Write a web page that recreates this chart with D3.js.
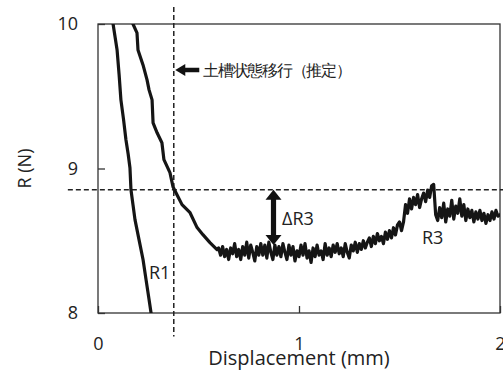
<!DOCTYPE html>
<html>
<head>
<meta charset="utf-8">
<script src="https://cdn.jsdelivr.net/npm/d3@7"></script>
<style>
  html, body { margin: 0; padding: 0; background: #fff; }
  svg { display: block; }
  text { font-family: "Open Sans", sans-serif; fill: #222; }
</style>
</head>
<body>
<div id="chart"></div>
<script>
// axis ticks
const xTicks = [0, 1, 2];
const yTicks = [8, 9, 10];

// R1 curve (displacement mm, R N)
const r1Disp = [0.075, 0.085, 0.095, 0.105, 0.114, 0.127, 0.139, 0.150, 0.159, 0.164, 0.174, 0.184, 0.204, 0.224, 0.239, 0.254, 0.264];
const r1Val  = [10.0, 9.91, 9.82, 9.65, 9.475, 9.34, 9.199, 9.10, 9.005, 8.853, 8.75, 8.646, 8.508, 8.37, 8.231, 8.093, 8.0];

// R2 -> R3 curve, upper part
const r3HeadDisp = [0.174, 0.194, 0.199, 0.224, 0.244, 0.254, 0.269, 0.274, 0.294, 0.318, 0.328, 0.358, 0.373, 0.398, 0.418, 0.458, 0.493, 0.522, 0.557, 0.592];
const r3HeadVal  = [10.0, 9.938, 9.82, 9.717, 9.613, 9.544, 9.475, 9.316, 9.247, 9.178, 9.061, 8.971, 8.874, 8.805, 8.75, 8.694, 8.591, 8.542, 8.487, 8.439];

// R3 noisy part, displacement 0.60 .. 2.00 every 0.01 mm
const r3TailStart = 0.60;
const r3TailStep = 0.01;
const r3TailVal = [
  8.45, 8.40, 8.46, 8.39, 8.44, 8.37, 8.45, 8.41, 8.48, 8.39, 8.44,
  8.37, 8.46, 8.40, 8.49, 8.38, 8.47, 8.42, 8.36, 8.46, 8.40,
  8.48, 8.40, 8.47, 8.38, 8.49, 8.42, 8.37, 8.47, 8.40, 8.46,
  8.39, 8.48, 8.42, 8.37, 8.47, 8.40, 8.46, 8.36, 8.43, 8.39,
  8.47, 8.40, 8.48, 8.38, 8.43, 8.35, 8.45, 8.39, 8.47, 8.40,
  8.43, 8.37, 8.48, 8.40, 8.45, 8.39, 8.47, 8.42, 8.48, 8.41,
  8.45, 8.39, 8.48, 8.42, 8.38, 8.47, 8.43, 8.49, 8.42, 8.48,
  8.44, 8.50, 8.45, 8.49, 8.52, 8.46, 8.53, 8.48, 8.55, 8.50,
  8.53, 8.48, 8.56, 8.51, 8.57, 8.52, 8.59, 8.54, 8.61, 8.63,
  8.57, 8.63, 8.75, 8.69, 8.79, 8.72, 8.80, 8.75, 8.82, 8.73,
  8.79, 8.83, 8.77, 8.85, 8.80, 8.88, 8.89, 8.68, 8.64, 8.73,
  8.66, 8.76, 8.63, 8.72, 8.67, 8.78, 8.65, 8.74, 8.69, 8.79,
  8.67, 8.75, 8.64, 8.72, 8.66, 8.71, 8.63, 8.70, 8.65, 8.71,
  8.64, 8.69, 8.62, 8.68, 8.64, 8.70, 8.65, 8.71, 8.67, 8.68
];

// reference lines
const transitionDisp = 0.377;   // vertical dashed
const refR = 8.853;             // horizontal dashed
const deltaTop = 8.853, deltaBottom = 8.47;

const width = 503, height = 376;
const margin = { top: 24, right: 3, bottom: 63, left: 98 };
const w = width - margin.left - margin.right;
const h = height - margin.top - margin.bottom;

const svg = d3.select("#chart").append("svg")
  .attr("width", width).attr("height", height);

const x = d3.scaleLinear().domain([0, 2]).range([margin.left, margin.left + w]);
const y = d3.scaleLinear().domain([8, 10]).range([margin.top + h, margin.top]);

svg.append("defs").append("clipPath").attr("id", "plot")
  .append("rect").attr("x", margin.left).attr("y", margin.top).attr("width", w).attr("height", h);

// frame
svg.append("rect")
  .attr("x", margin.left).attr("y", margin.top).attr("width", w).attr("height", h)
  .attr("fill", "none").attr("stroke", "#333").attr("stroke-width", 1.3);

// axes with inward ticks
const xAxis = svg.append("g").attr("transform", `translate(0,${margin.top + h})`)
  .call(d3.axisBottom(x).tickValues(xTicks).tickSize(-7).tickPadding(24).tickFormat(d3.format("d")));
const yAxis = svg.append("g").attr("transform", `translate(${margin.left},0)`)
  .call(d3.axisLeft(y).tickValues(yTicks).tickSize(-7).tickPadding(20).tickFormat(d3.format("d")));
[xAxis, yAxis].forEach(a => {
  a.select(".domain").remove();
  a.selectAll("line").attr("stroke", "#333").attr("stroke-width", 1.3);
  a.selectAll("text").attr("font-family", "Open Sans").attr("font-size", 18).attr("fill", "#222");
});

// dashed reference lines
svg.append("line")
  .attr("x1", x(-0.15)).attr("x2", width)
  .attr("y1", y(refR)).attr("y2", y(refR))
  .attr("stroke", "#222").attr("stroke-width", 1.5).attr("stroke-dasharray", "5,3");
svg.append("line")
  .attr("x1", x(transitionDisp)).attr("x2", x(transitionDisp))
  .attr("y1", y(10.117)).attr("y2", y(7.838))
  .attr("stroke", "#222").attr("stroke-width", 1.5).attr("stroke-dasharray", "5,3");

// curves
const line = d3.line().x(d => x(d[0])).y(d => y(d[1]));
const r1 = r1Disp.map((d, i) => [d, r1Val[i]]);
const r3 = r3HeadDisp.map((d, i) => [d, r3HeadVal[i]])
  .concat(r3TailVal.map((v, i) => [r3TailStart + i * r3TailStep, v]));

const g = svg.append("g").attr("clip-path", "url(#plot)");
[r1, r3].forEach(data => {
  g.append("path").datum(data)
    .attr("d", line)
    .attr("fill", "none").attr("stroke", "#151515")
    .attr("stroke-width", 3.2).attr("stroke-linejoin", "round").attr("stroke-linecap", "round");
});

// transition arrow + label
const ay = 70;
const ax0 = x(transitionDisp) + 1.5;
svg.append("path")
  .attr("d", `M${ax0},${ay} L${ax0 + 10},${ay - 6} L${ax0 + 10},${ay - 2.2} L${ax0 + 24},${ay - 2.2} L${ax0 + 24},${ay + 2.2} L${ax0 + 10},${ay + 2.2} L${ax0 + 10},${ay + 6} Z`)
  .attr("fill", "#111");
svg.append("text")
  .attr("x", 203).attr("y", ay + 6)
  .attr("font-family", "Noto Sans CJK JP").attr("font-size", 16).attr("fill", "#222")
  .attr("textLength", 149).attr("lengthAdjust", "spacing")
  .text("土槽状態移行（推定）");

// delta R3 double arrow
const dx = 273.5;
const yt = y(deltaTop), yb = y(deltaBottom);
svg.append("path")
  .attr("d", `M${dx},${yt} L${dx + 8},${yt + 10} L${dx + 2.6},${yt + 10} L${dx + 2.6},${yb - 10} L${dx + 8},${yb - 10} L${dx},${yb} L${dx - 8},${yb - 10} L${dx - 2.6},${yb - 10} L${dx - 2.6},${yt + 10} L${dx - 8},${yt + 10} Z`)
  .attr("fill", "#111");

// labels
const lab = (t, px, py) => svg.append("text").attr("x", px).attr("y", py)
  .attr("font-size", 18).attr("fill", "#222").text(t);
lab("ΔR3", 282, 225);
lab("R3", 422, 244);
lab("R1", 149, 279);

// axis titles
svg.append("text")
  .attr("x", x(1)).attr("y", 365).attr("text-anchor", "middle")
  .attr("font-size", 20).attr("fill", "#222").text("Displacement (mm)");
svg.append("text")
  .attr("transform", `translate(31,${y(9)}) rotate(-90)`)
  .attr("text-anchor", "middle")
  .attr("font-size", 18).attr("fill", "#222").text("R (N)");
</script>
</body>
</html>
